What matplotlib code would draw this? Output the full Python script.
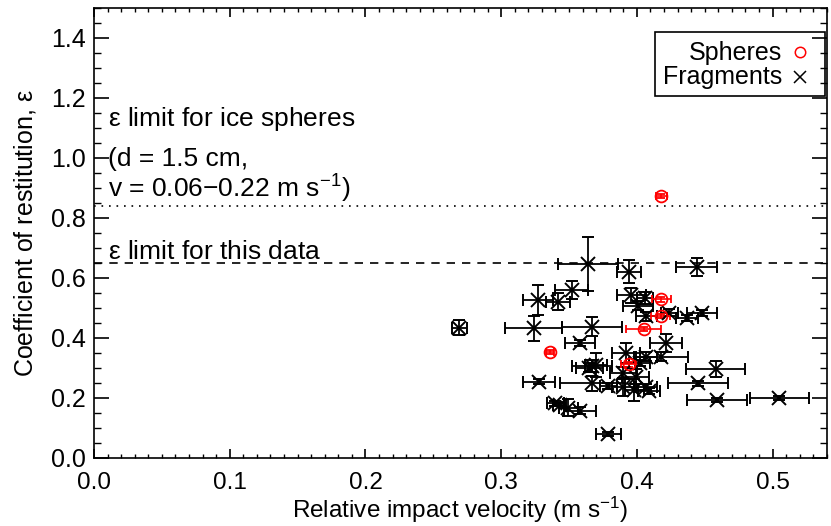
import numpy as np
import matplotlib.pyplot as plt
from matplotlib.patches import Rectangle
from matplotlib.ticker import MultipleLocator

plt.rcParams['font.family'] = ['Liberation Sans', 'DejaVu Sans']
plt.rcParams['mathtext.fontset'] = 'custom'
plt.rcParams['mathtext.rm'] = 'Liberation Sans'
plt.rcParams['mathtext.it'] = 'Liberation Sans'

# Fragments: velocity, restitution coefficient and their errors
frag_v = [0.364, 0.352, 0.327, 0.342, 0.269, 0.324, 0.367, 0.358, 0.367, 0.365,
          0.370, 0.328, 0.367, 0.379, 0.390, 0.340, 0.343, 0.3495, 0.358, 0.379,
          0.394, 0.444, 0.396, 0.406, 0.401, 0.407, 0.424, 0.437, 0.448, 0.4215,
          0.392, 0.407, 0.4175, 0.402, 0.458, 0.390, 0.399, 0.445, 0.398, 0.407,
          0.409, 0.459, 0.505]
frag_e = [0.645, 0.560, 0.527, 0.521, 0.434, 0.432, 0.438, 0.382, 0.307, 0.300,
          0.310, 0.254, 0.249, 0.241, 0.238, 0.182, 0.178, 0.168, 0.158, 0.080,
          0.621, 0.636, 0.543, 0.532, 0.507, 0.473, 0.484, 0.466, 0.482, 0.382,
          0.349, 0.338, 0.338, 0.318, 0.297, 0.282, 0.271, 0.249, 0.227, 0.238,
          0.224, 0.193, 0.199]
frag_verr = [0.022, 0.012, 0.011, 0.009, 0.0055, 0.021, 0.022, 0.011, 0.015, 0.010,
             0.008, 0.012, 0.024, 0.006, 0.008, 0.0064, 0.005, 0.007, 0.012, 0.009,
             0.009, 0.015, 0.011, 0.006, 0.011, 0.008, 0.006, 0.008, 0.011, 0.012,
             0.010, 0.008, 0.020, 0.008, 0.022, 0.010, 0.010, 0.022, 0.007, 0.008,
             0.008, 0.022, 0.022]
frag_eerr = [0.090, 0.030, 0.049, 0.028, 0.025, 0.041, 0.032, 0.010, 0.020, 0.015,
             0.040, 0.008, 0.025, 0.010, 0.030, 0.008, 0.006, 0.028, 0.012, 0.008,
             0.039, 0.030, 0.025, 0.020, 0.015, 0.015, 0.012, 0.010, 0.010, 0.030,
             0.033, 0.015, 0.015, 0.010, 0.027, 0.020, 0.025, 0.008, 0.036, 0.010,
             0.010, 0.008, 0.006]

# Spheres
sph_v = [0.418, 0.418, 0.4175, 0.405, 0.394, 0.336]
sph_e = [0.873, 0.529, 0.473, 0.430, 0.312, 0.354]
sph_verr = [0.004, 0.007, 0.0068, 0.013, 0.0055, 0.003]
sph_eerr = [0.008, 0.008, 0.008, 0.008, 0.008, 0.006]

limit_spheres = 0.84
limit_data = 0.65

fig = plt.figure(figsize=(8.31, 5.26), dpi=100)
ax = fig.add_axes([0.1131, 0.1293, 0.882, 0.8555])

ax.errorbar(frag_v, frag_e, xerr=frag_verr, yerr=frag_eerr, fmt='x', color='black',
            ms=10, mew=1.4, elinewidth=1.3, capsize=4.5, capthick=1.3)
ax.errorbar(sph_v, sph_e, xerr=sph_verr, yerr=sph_eerr, fmt='o', color='red',
            mfc='none', ms=8.5, mew=1.3, elinewidth=1.2, capsize=3, capthick=1.2)

ax.axhline(limit_spheres, color='black', lw=1.2, linestyle=(0, (1, 3.5)))
ax.axhline(limit_data, color='black', lw=1.2, linestyle=(0, (5, 4.2)))

fa = 19
ax.text(0.01, 1.107, r'$\epsilon$ limit for ice spheres', fontsize=fa, va='baseline')
ax.text(0.01, 0.973, '(d = 1.5 cm,', fontsize=fa, va='baseline')
ax.text(0.01, 0.867, r'v = 0.06$-$0.22 m s$^{-1}$)', fontsize=fa, va='baseline')
ax.text(0.01, 0.662, r'$\epsilon$ limit for this data', fontsize=fa, va='baseline')

# legend box drawn by hand (labels right-aligned, symbols on the right)
fl = 18
ax.add_patch(Rectangle((0.765, 0.804), 0.232, 0.143, transform=ax.transAxes,
                       fill=False, lw=1.2, ec='black', zorder=5))
ax.text(0.939, 0.900, 'Spheres', transform=ax.transAxes, ha='right', va='center', fontsize=fl)
ax.text(0.939, 0.847, 'Fragments', transform=ax.transAxes, ha='right', va='center', fontsize=fl)
ax.plot([0.963], [0.903], 'o', mfc='none', mec='red', ms=7.5, mew=1.1, transform=ax.transAxes)
ax.plot([0.963], [0.847], 'x', color='black', ms=8, mew=1.1, transform=ax.transAxes)

ax.set_xlim(0, 0.54)
ax.set_ylim(0, 1.5)
ax.xaxis.set_major_locator(MultipleLocator(0.1))
ax.xaxis.set_minor_locator(MultipleLocator(0.01))
ax.yaxis.set_major_locator(MultipleLocator(0.2))
ax.yaxis.set_minor_locator(MultipleLocator(0.05))
ax.xaxis.set_major_formatter(plt.FormatStrFormatter('%.1f'))
ax.yaxis.set_major_formatter(plt.FormatStrFormatter('%.1f'))
ax.tick_params(axis='x', which='major', direction='in', length=6.5, width=1.2,
               top=True, labelsize=17.5, pad=10)
ax.tick_params(axis='x', which='minor', direction='in', length=3.2, width=1.0, top=True)
ax.tick_params(axis='y', which='major', direction='in', length=10.5, width=1.2,
               right=True, labelsize=18, pad=6)
ax.tick_params(axis='y', which='minor', direction='in', length=5.3, width=1.0, right=True)
for s in ax.spines.values():
    s.set_linewidth(1.2)

ax.set_xlabel(r'Relative impact velocity (m s$^{-1}$)', fontsize=17.5, labelpad=1)
ax.set_ylabel(r'Coefficient of restitution, $\epsilon$', fontsize=18, labelpad=9)

fig.savefig('out.png', dpi=100)
